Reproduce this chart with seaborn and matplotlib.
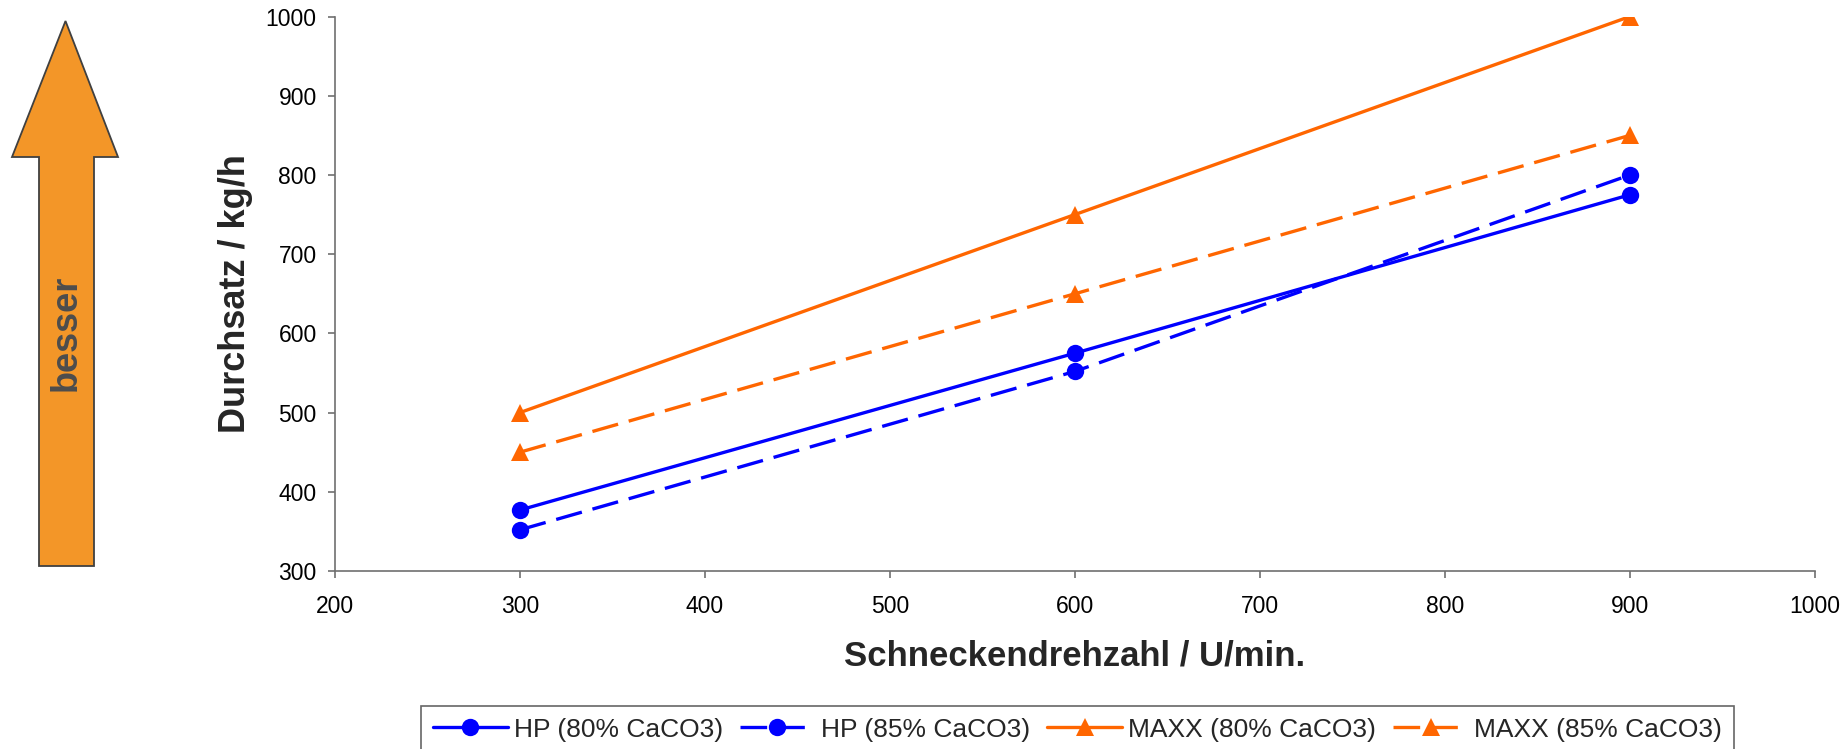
import matplotlib
matplotlib.use("Agg")
import matplotlib.pyplot as plt
import seaborn as sns
import pandas as pd
from matplotlib.patches import Polygon

# ---- data ----
speed = [300, 600, 900]
hp_80 = [377, 575, 775]
hp_85 = [352, 552, 800]
maxx_80 = [500, 750, 1000]
maxx_85 = [450, 650, 850]
series_names = ["HP (80% CaCO3)", "HP (85% CaCO3)", "MAXX (80% CaCO3)", "MAXX (85% CaCO3)"]
x_label = "Schneckendrehzahl / U/min."
y_label = "Durchsatz / kg/h"
arrow_text = "besser"

sns.set_style("white")
plt.rcParams["font.family"] = ["Liberation Sans", "DejaVu Sans"]

W, H = 1843, 749
fig = plt.figure(figsize=(W / 100, H / 100), dpi=100)
ax = fig.add_axes([335 / W, 1 - 571 / H, (1815 - 335) / W, (571 - 16.5) / H])

blue = "#0000FF"
orange = "#FF6600"
dash = (0, (8, 3.3))
styles = [
    (hp_80, blue, "o", "-"),
    (hp_85, blue, "o", dash),
    (maxx_80, orange, "^", "-"),
    (maxx_85, orange, "^", dash),
]
for name, (vals, col, mk, ls) in zip(series_names, styles):
    df = pd.DataFrame({"x": speed, "y": vals})
    sns.lineplot(data=df, x="x", y="y", ax=ax, color=col, marker=mk,
                 markersize=12.5, markeredgewidth=0, linewidth=2.4,
                 linestyle=ls, label=name, legend=False)

ax.set_xlim(200, 1000)
ax.set_ylim(300, 1000)
ax.set_xticks(range(200, 1001, 100))
ax.set_yticks(range(300, 1001, 100))
for s in ["top", "right"]:
    ax.spines[s].set_visible(False)
for s in ["left", "bottom"]:
    ax.spines[s].set_color("#707070")
    ax.spines[s].set_linewidth(1.2)
ax.tick_params(axis="both", direction="out", length=5, width=1.2, color="#707070",
               labelsize=16.5, labelcolor="black", left=True, bottom=True)
ax.tick_params(axis="y", pad=8.2)
ax.tick_params(axis="x", pad=12)
ax.set_xlabel(x_label, fontsize=25, fontweight="bold")
ax.set_ylabel(y_label, fontsize=26, fontweight="bold")
ax.xaxis.set_label_coords(0.5, -0.124)
ax.yaxis.set_label_coords(-0.0554, 0.5)

leg = fig.legend(*ax.get_legend_handles_labels(), loc="upper center",
                 bbox_to_anchor=(0.5846, 1 - 705.7 / H), ncol=4, fontsize=19,
                 frameon=True, fancybox=False, edgecolor="#404040",
                 handlelength=2.84, handletextpad=0.23, columnspacing=0.65,
                 borderpad=0.45, borderaxespad=0)
leg.get_frame().set_linewidth(1.2)

# ---- "besser" arrow (figure decoration) ----
pts = [(39, 566), (94, 566), (94, 157), (118, 157), (65.5, 21), (12, 157), (39, 157)]
poly = Polygon([(x / W, 1 - y / H) for x, y in pts], closed=True,
               facecolor="#F39628", edgecolor="#404040", linewidth=1.3,
               transform=fig.transFigure)
fig.patches.append(poly)
fig.text(66.5 / W, 1 - 333 / H, arrow_text, rotation=90, fontsize=26,
         fontweight="bold", color="#4D4D4D", ha="center", va="center")

fig.savefig("out.png", dpi=100)
